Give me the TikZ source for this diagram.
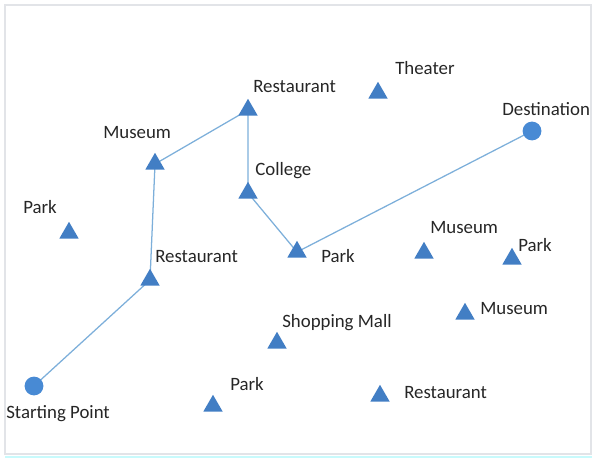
\documentclass[tikz,border=0pt]{standalone}
\usepackage{fontspec}
\setmainfont{Carlito}
\usetikzlibrary{shapes.geometric,backgrounds}
\definecolor{pinblue}{RGB}{66,126,196}
\definecolor{stopblue}{RGB}{72,138,212}
\definecolor{routeblue}{RGB}{125,175,218}
\definecolor{framegray}{RGB}{226,228,232}
\definecolor{edgecyan}{RGB}{200,250,252}

\begin{document}
\begin{tikzpicture}[
    x=0.025cm, y=-0.025cm,
    place/.style={regular polygon, regular polygon sides=3, fill=pinblue,
                  inner sep=0pt, minimum size=0.56cm},
    stop/.style={circle, fill=stopblue, inner sep=0pt, minimum size=0.47cm},
    tag/.style={anchor=base west, inner sep=0pt, font=\fontsize{13.4}{15}\selectfont,
                text=black!85},
    route/.style={draw=routeblue, line width=0.9pt}
]
    \useasboundingbox (0,0) rectangle (592,459);
    \draw[framegray, line width=1.2pt] (5,5) rectangle (591,454);
    \draw[edgecyan, line width=1pt] (5,457) -- (592,457);

    % Start and end of the route
    \node[stop] (start) at (34,386) {};
    \node[stop] (dest) at (532,131) {};

    % Places on the map
    \node[place] (rest1) at (248,110) {};
    \node[place] (theater) at (378,93) {};
    \node[place] (mus1) at (155,164) {};
    \node[place] (college) at (248,193) {};
    \node[place] (park1) at (69,233) {};
    \node[place] (rest2) at (150,280) {};
    \node[place] (park2) at (297,252) {};
    \node[place] (mus2) at (424,253) {};
    \node[place] (park3) at (512,259) {};
    \node[place] (mus3) at (465,314) {};
    \node[place] (mall) at (277,343) {};
    \node[place] (park4) at (213,406) {};
    \node[place] (rest3) at (380,396) {};

    % Labels
    \node[tag] (t-rest1) at (253,93) {Restaurant};
    \node[tag] (t-theater) at (395,75) {Theater};
    \node[tag] (t-dest) at (502,116) {Destination};
    \node[tag] (t-mus1) at (103,139) {Museum};
    \node[tag] (t-college) at (255,176) {College};
    \node[tag] (t-park1) at (23,214) {Park};
    \node[tag] (t-rest2) at (155,263) {Restaurant};
    \node[tag] (t-park2) at (321,262) {Park};
    \node[tag] (t-mus2) at (430,234) {Museum};
    \node[tag] (t-park3) at (518,251) {Park};
    \node[tag] (t-mus3) at (480,314) {Museum};
    \node[tag] (t-mall) at (282,327) {Shopping Mall};
    \node[tag] (t-park4) at (230,390) {Park};
    \node[tag] (t-rest3) at (404,398) {Restaurant};
    \node[tag] (t-start) at (6,418) {Starting Point};

    % Route
    \begin{scope}[on background layer]
        \draw[route] (start.center) -- (rest2.center) -- (mus1.center)
            -- (rest1.center) -- (college.center) -- (park2.center) -- (dest.center);
    \end{scope}

\end{tikzpicture}
\end{document}
